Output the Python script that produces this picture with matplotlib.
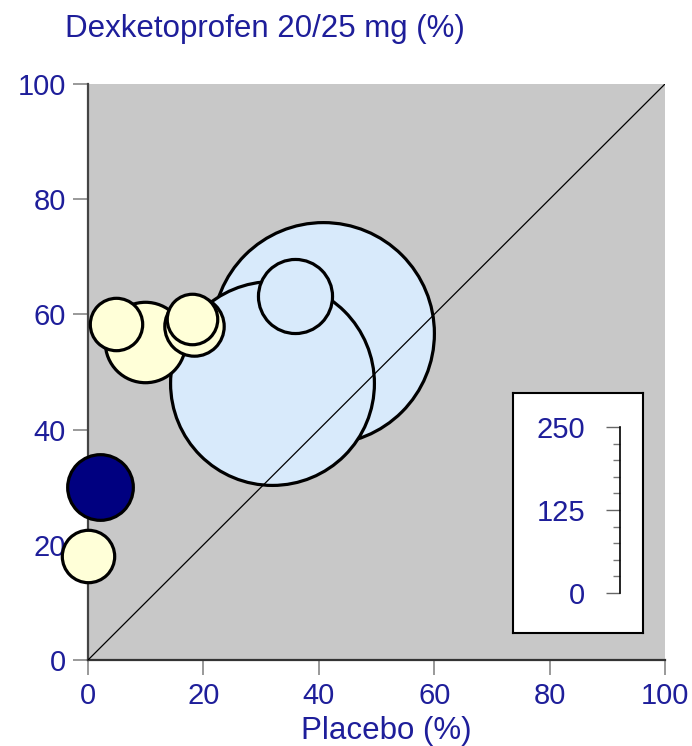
import matplotlib
matplotlib.use("Agg")
import matplotlib.pyplot as plt
import numpy as np

plt.rcParams['font.family'] = ['Liberation Sans', 'DejaVu Sans']

# L'Abbe plot data: event rates (%) and study size
placebo = [40.7, 31.9, 35.9, 9.9, 4.9, 18.3, 18.0, 2.0, 0.0]
dexketo = [56.8, 48.1, 63.2, 55.2, 58.3, 58.0, 59.2, 30.1, 18.1]
patients = [251, 212, 28, 33, 14, 18, 13, 22, 14]
groups = ['blue', 'blue', 'blue', 'yellow', 'yellow', 'yellow', 'yellow', 'navy', 'yellow']

colors = {'blue': '#d8eafb', 'yellow': '#ffffd8', 'navy': '#000080'}
ticks_main = [0, 20, 40, 60, 80, 100]
scale_ticks = [0, 125, 250]

txt_col = '#1e1e9a'

fig = plt.figure(figsize=(6.92, 7.46), dpi=100)
ax = fig.add_axes([88/692, 86/746, 577/692, 576/746])
ax.set_facecolor('#c8c8c8')
ax.set_xlim(0, 100)
ax.set_ylim(0, 100)

for s in ['top', 'right']:
    ax.spines[s].set_visible(False)
ax.spines['left'].set_color('#444444')
ax.spines['bottom'].set_color('#333333')
ax.spines['left'].set_linewidth(1.6)
ax.spines['bottom'].set_linewidth(1.6)

ax.set_xticks(ticks_main)
ax.set_yticks(ticks_main)
ax.tick_params(length=11, width=1.2, color='#888888', pad=5,
               labelsize=21, labelcolor=txt_col)

# bubble radius in pixels ~ sqrt(n)
for x, y, n, g in zip(placebo, dexketo, patients, groups):
    r_pt = 7.0 * np.sqrt(n) * 0.72
    ax.scatter([x], [y], s=(2*r_pt)**2, c=colors[g], edgecolors='black',
               linewidths=2.3, clip_on=False, zorder=3)

ax.plot([0, 100], [0, 100], color='black', lw=0.9, zorder=4)

fig.text(265/692, 1 - 37/746, 'Dexketoprofen 20/25 mg (%)', ha='center',
         va='baseline', fontsize=22.5, color=txt_col)
fig.text(386/692, 1 - 739/746, 'Placebo (%)', ha='center', va='baseline',
         fontsize=22.5, color=txt_col)

# size scale box
box = fig.add_axes([513/692, 113/746, 130/692, 240/746])
box.set_facecolor('white')
box.set_xticks([])
box.set_yticks([])
for s in box.spines.values():
    s.set_linewidth(1.5)
    s.set_color('black')
box.set_zorder(5)

sc = fig.add_axes([620/692, 153/746, 0.0001, 166/746])
sc.set_zorder(6)
sc.patch.set_visible(False)
sc.set_ylim(0, 250)
sc.set_xticks([])
for s in ['top', 'right', 'bottom']:
    sc.spines[s].set_visible(False)
sc.spines['left'].set_linewidth(1.2)
sc.set_yticks(scale_ticks)
sc.set_yticks(np.arange(0, 251, 25), minor=True)
sc.tick_params(axis='y', which='major', length=10, width=1.0, color='#666666',
               pad=15, labelsize=21, labelcolor=txt_col)
sc.tick_params(axis='y', which='minor', length=5, width=1.0, color='#777777')

fig.savefig('out.png', dpi=100)
